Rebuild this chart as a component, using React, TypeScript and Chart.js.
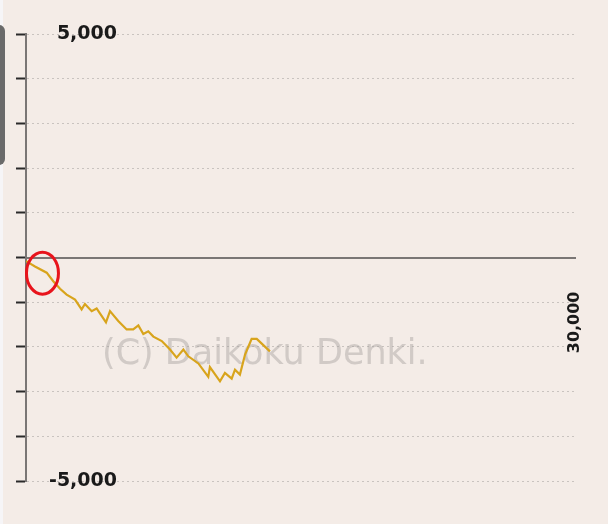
import React, { useEffect, useRef } from "react";
import { Chart, registerables } from "chart.js";

Chart.register(...registerables);

// Games played (x) and coin difference (y)
const games = [0, 490, 1130, 1490, 1860, 2220, 2680, 3040, 3220, 3590, 3860, 4040, 4370, 4590, 5040, 5500, 5860, 6140, 6410, 6680, 6960, 7420, 7870, 8230, 8600, 8870, 9420, 9960, 10050, 10600, 10870, 11240, 11420, 11690, 11970, 12330, 12610, 13330];
const diff = [-80, -200, -340, -530, -700, -830, -940, -1160, -1040, -1200, -1140, -1250, -1450, -1200, -1420, -1610, -1610, -1520, -1710, -1650, -1770, -1870, -2060, -2240, -2060, -2210, -2370, -2670, -2450, -2770, -2580, -2710, -2510, -2620, -2170, -1820, -1820, -2100];

const yMin = -5000;
const yMax = 5000;
const yStep = 1000;
const yLabelValues = [5000, -5000];
const xMin = 0;
const xMax = 30000;
const xLabelValues = [30000];
const watermark = "(C) Daikoku Denki.";
const highlight = { x: 900, y: -350 };

const fmt = (v: number) => v.toLocaleString("en-US");

export default function App() {
  const ref = useRef<HTMLCanvasElement | null>(null);

  useEffect(() => {
    if (!ref.current) return;
    const watermarkPlugin = {
      id: "watermark",
      beforeDatasetsDraw(chart: any) {
        const { ctx, chartArea } = chart;
        ctx.save();
        ctx.font = '35px "DejaVu Sans"';
        ctx.fillStyle = "rgba(160,155,152,0.42)";
        ctx.textBaseline = "alphabetic";
        ctx.textAlign = "left";
        ctx.fillText(watermark, chartArea.left + 76, chartArea.top + 330);
        ctx.restore();
      },
    };
    const circlePlugin = {
      id: "circle",
      afterDatasetsDraw(chart: any) {
        const { ctx, scales } = chart;
        const cx = scales.x.getPixelForValue(highlight.x);
        const cy = scales.y.getPixelForValue(highlight.y);
        ctx.save();
        ctx.strokeStyle = "#e8141c";
        ctx.lineWidth = 3;
        ctx.beginPath();
        ctx.ellipse(cx, cy, 16, 21, 0, 0, Math.PI * 2);
        ctx.stroke();
        ctx.restore();
      },
    };
    const chart = new Chart(ref.current, {
      type: "line",
      data: {
        datasets: [
          {
            data: games.map((g, i) => ({ x: g, y: diff[i] })),
            borderColor: "#d8a41c",
            borderWidth: 2.2,
            pointRadius: 0,
            tension: 0,
            fill: false,
          },
        ],
      },
      options: {
        animation: false,
        responsive: false,
        devicePixelRatio: 1,
        layout: { padding: { left: 16, right: 33, top: 34, bottom: 43 } },
        plugins: { legend: { display: false }, tooltip: { enabled: false } },
        scales: {
          x: {
            type: "linear",
            min: xMin,
            max: xMax,
            position: { y: 0 } as any,
            grid: { display: false, drawTicks: false },
            border: { display: true, color: "#7a7675", width: 2 },
            afterBuildTicks: (scale: any) => {
              scale.ticks = xLabelValues.map((v) => ({ value: v }));
            },
            afterFit: (scale: any) => {
              scale.paddingLeft = 0;
              scale.paddingRight = 0;
              scale.paddingTop = 0;
              scale.paddingBottom = 0;
            },
            ticks: {
              minRotation: 90,
              maxRotation: 90,
              padding: 34,
              color: "#1a1a1a",
              font: { family: '"DejaVu Sans"', size: 16, weight: "bold" },
              callback: (v: any) => fmt(Number(v)),
            },
          },
          y: {
            type: "linear",
            min: yMin,
            max: yMax,
            position: "left",
            grid: {
              color: "#c9c3bf",
              lineWidth: 1,
              tickLength: 10,
              tickColor: "#2a2a2a",
              tickWidth: 2,
            },
            border: { display: true, color: "#7a7675", width: 2, dash: [2, 3] },
            afterFit: (scale: any) => {
              scale.width = 10;
              scale.paddingTop = 0;
              scale.paddingBottom = 0;
              scale.paddingLeft = 0;
              scale.paddingRight = 0;
            },
            ticks: {
              stepSize: yStep,
              mirror: true,
              crossAlign: "far",
              padding: 23,
              color: "#1a1a1a",
              font: { family: '"DejaVu Sans"', size: 19, weight: "bold" },
              callback: (v: any) => (yLabelValues.includes(Number(v)) ? fmt(Number(v)) : ""),
            },
          },
        },
      },
      plugins: [watermarkPlugin, circlePlugin],
    });
    return () => chart.destroy();
  }, []);

  return (
    <div style={{ position: "fixed", left: 0, top: 0, width: 608, height: 524, background: "#f4ece7", overflow: "hidden" }}>
      <div style={{ position: "absolute", left: 0, top: 0, width: 3, height: 524, background: "#f6f5f7" }} />
      <div style={{ position: "absolute", left: -10, top: 25, width: 15, height: 140, background: "#6a6a6a", borderRadius: 6 }} />
      <canvas ref={ref} width={608} height={524} style={{ position: "absolute", left: 0, top: 0, width: 608, height: 524 }} />
    </div>
  );
}
